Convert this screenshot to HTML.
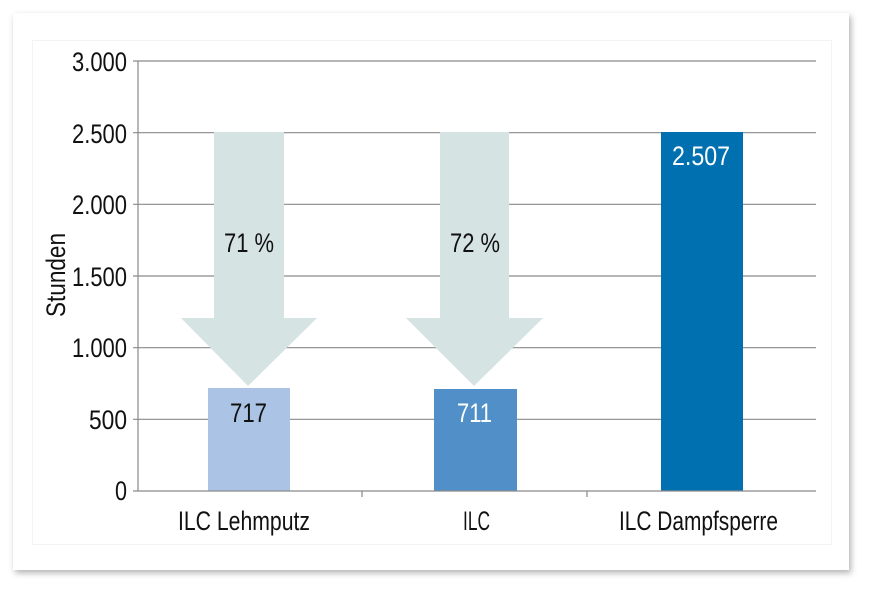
<!DOCTYPE html>
<html><head><meta charset="utf-8"><style>
body{margin:0;background:#fff;width:872px;height:594px;overflow:hidden}
.card{position:absolute;left:13px;top:13px;width:836px;height:557px;background:#fff;box-shadow:2px 3px 6px rgba(0,0,0,0.3)}
.panel{position:absolute;left:32px;top:40px;width:798px;height:503px;border:1px solid #f3f3f3;background:#fff}
svg{position:absolute;left:0;top:0}
text{font-family:"Liberation Sans Narrow","Liberation Sans",sans-serif;fill:#111}
</style></head><body>
<div class="card"></div><div class="panel"></div>
<svg width="872" height="594">
<g stroke="#8a8a8a" stroke-width="1.2">
<line x1="133" y1="61" x2="816" y2="61"/>
<line x1="133" y1="132.7" x2="816" y2="132.7"/>
<line x1="133" y1="204.3" x2="816" y2="204.3"/>
<line x1="133" y1="276" x2="816" y2="276"/>
<line x1="133" y1="347.7" x2="816" y2="347.7"/>
<line x1="133" y1="419.3" x2="816" y2="419.3"/>
</g>
<polygon points="214,132 284,132 284,318 317,318 248,386 181,318 214,318" fill="#d5e3e3"/>
<polygon points="440,132 509,132 509,318 543,318 474,386 406,318 440,318" fill="#d5e3e3"/>
<rect x="208" y="388" width="82" height="103" fill="#abc3e4"/>
<rect x="434" y="389" width="83" height="102" fill="#508fc8"/>
<rect x="661" y="132" width="82" height="359" fill="#0070b0"/>
<g stroke="#8a8a8a" stroke-width="1.2">
<line x1="138" y1="61" x2="138" y2="491"/>
<line x1="133" y1="491" x2="816" y2="491"/>
<line x1="362" y1="491" x2="362" y2="497"/>
<line x1="587" y1="491" x2="587" y2="497"/>
</g>
<g font-size="27" lengthAdjust="spacingAndGlyphs">
<text x="72" y="71" textLength="55" lengthAdjust="spacingAndGlyphs">3.000</text>
<text x="72" y="143" textLength="55" lengthAdjust="spacingAndGlyphs">2.500</text>
<text x="72" y="214" textLength="55" lengthAdjust="spacingAndGlyphs">2.000</text>
<text x="72" y="286" textLength="55" lengthAdjust="spacingAndGlyphs">1.500</text>
<text x="72" y="357" textLength="55" lengthAdjust="spacingAndGlyphs">1.000</text>
<text x="89" y="429" textLength="38" lengthAdjust="spacingAndGlyphs">500</text>
<text x="115" y="500" textLength="12" lengthAdjust="spacingAndGlyphs">0</text>
</g>
<text x="0" y="0" font-size="27" textLength="84" lengthAdjust="spacingAndGlyphs" transform="translate(65 317) rotate(-90)">Stunden</text>
<g font-size="27">
<text x="224" y="252" textLength="50" lengthAdjust="spacingAndGlyphs">71 %</text>
<text x="450" y="252" textLength="50" lengthAdjust="spacingAndGlyphs">72 %</text>
<text x="230" y="422" textLength="37" lengthAdjust="spacingAndGlyphs">717</text>
<text x="457" y="422" textLength="35" lengthAdjust="spacingAndGlyphs" style="fill:#fff">711</text>
<text x="672" y="165" textLength="58" lengthAdjust="spacingAndGlyphs" style="fill:#fff">2.507</text>
<text x="178" y="530" textLength="132" lengthAdjust="spacingAndGlyphs">ILC Lehmputz</text>
<text x="463" y="530" textLength="27" lengthAdjust="spacingAndGlyphs">ILC</text>
<text x="619" y="530" textLength="159" lengthAdjust="spacingAndGlyphs">ILC Dampfsperre</text>
</g>
</svg>
</body></html>
